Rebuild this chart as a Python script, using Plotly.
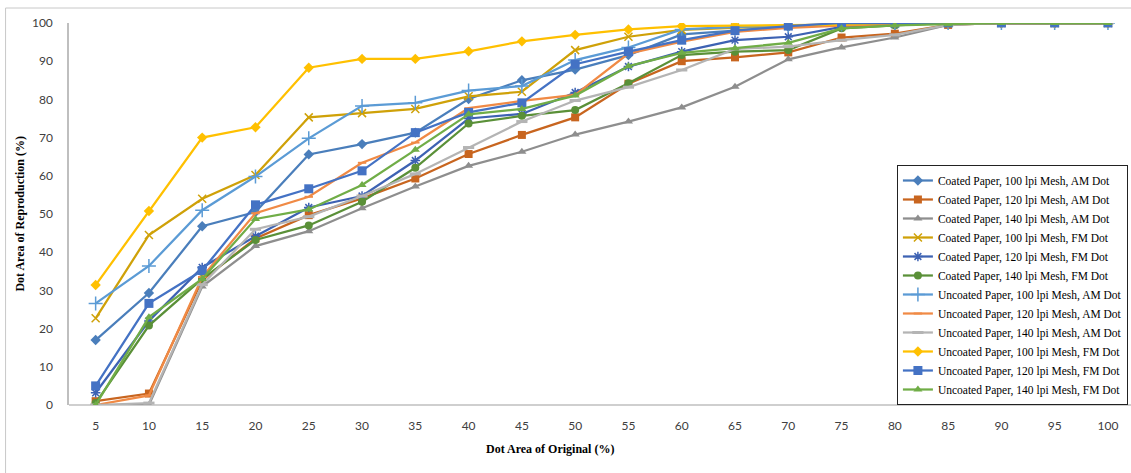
import plotly.graph_objects as go

x_original = [5, 10, 15, 20, 25, 30, 35, 40, 45, 50, 55, 60, 65, 70, 75, 80, 85, 90, 95, 100]

coated_100_am = [17, 29.3, 46.8, 50.5, 65.6, 68.3, 71.3, 80.1, 85.0, 87.8, 91.6, 97.0, 98.0, 99.0, 99.5, 100, 100, 100, 100, 100]
coated_120_am = [1, 3, 32.7, 43.6, 49.7, 54.1, 59.3, 65.7, 70.7, 75.3, 84.1, 90.0, 91.0, 92.3, 96.2, 97.2, 99.5, 100, 100, 100]
coated_140_am = [0, 0, 31.0, 41.6, 45.5, 51.5, 57.2, 62.6, 66.3, 70.8, 74.2, 77.9, 83.3, 90.5, 93.6, 96.2, 99.5, 100, 100, 100]
coated_100_fm = [22.7, 44.5, 54.0, 60.2, 75.3, 76.4, 77.5, 80.8, 82.0, 92.9, 96.4, 98.2, 98.8, 99.3, 99.6, 100, 100, 100, 100, 100]
coated_120_fm = [3.2, 22.0, 36.0, 44.2, 51.7, 54.7, 64.0, 75.0, 76.2, 81.8, 88.6, 92.5, 95.5, 96.4, 99.0, 99.5, 100, 100, 100, 100]
coated_140_fm = [0.5, 20.8, 33.0, 43.2, 47.0, 53.2, 62.1, 73.7, 75.7, 77.2, 84.2, 91.6, 92.5, 92.9, 98.6, 99.4, 100, 100, 100, 100]
uncoated_100_am = [26.6, 36.4, 51.0, 59.8, 69.8, 78.3, 79.1, 82.3, 83.5, 90.3, 93.6, 98.3, 99.0, 99.3, 99.6, 100, 100, 100, 100, 100]
uncoated_120_am = [0, 2.5, 33.5, 50.2, 54.5, 63.4, 68.7, 77.7, 79.6, 81.2, 92.0, 95.1, 97.7, 98.7, 99.3, 99.6, 100, 100, 100, 100]
uncoated_140_am = [0, 0.5, 31.5, 46.0, 49.3, 54.7, 60.5, 67.4, 74.2, 79.7, 83.2, 87.7, 93.2, 93.8, 95.5, 96.9, 99.5, 100, 100, 100]
uncoated_100_fm = [31.4, 50.8, 70.0, 72.7, 88.3, 90.6, 90.6, 92.6, 95.2, 96.9, 98.3, 99.2, 99.3, 99.4, 99.6, 100, 100, 100, 100, 100]
uncoated_120_fm = [5.0, 26.6, 35.2, 52.4, 56.6, 61.3, 71.3, 76.6, 79.1, 89.2, 92.5, 95.5, 98.0, 99.2, 100, 100, 100, 100, 100, 100]
uncoated_140_fm = [0, 23.0, 33.0, 48.7, 51.2, 57.6, 66.8, 76.1, 77.5, 81.0, 88.7, 92.2, 93.4, 94.8, 98.6, 99.4, 99.7, 100, 100, 100]

series_names = [
    "Coated Paper, 100 lpi Mesh, AM Dot",
    "Coated Paper, 120 lpi Mesh, AM Dot",
    "Coated Paper, 140 lpi Mesh, AM Dot",
    "Coated Paper, 100 lpi Mesh, FM Dot",
    "Coated Paper, 120 lpi Mesh, FM Dot",
    "Coated Paper, 140 lpi Mesh, FM Dot",
    "Uncoated Paper, 100 lpi Mesh, AM Dot",
    "Uncoated Paper, 120 lpi Mesh, AM Dot",
    "Uncoated Paper, 140 lpi Mesh, AM Dot",
    "Uncoated Paper, 100 lpi Mesh, FM Dot",
    "Uncoated Paper, 120 lpi Mesh, FM Dot",
    "Uncoated Paper, 140 lpi Mesh, FM Dot",
]
series_values = [
    coated_100_am, coated_120_am, coated_140_am, coated_100_fm, coated_120_fm, coated_140_fm,
    uncoated_100_am, uncoated_120_am, uncoated_140_am, uncoated_100_fm, uncoated_120_fm, uncoated_140_fm,
]

styles = [
    dict(color="#4A7EBB", symbol="diamond", size=8, lw=0),
    dict(color="#C8651F", symbol="square", size=8, lw=0),
    dict(color="#8E8E8E", symbol="triangle-up", size=8, lw=0),
    dict(color="#CFA108", symbol="x-thin-open", size=8, lw=1.5),
    dict(color="#3D62B3", symbol="asterisk-open", size=8, lw=1.5),
    dict(color="#5A9038", symbol="circle", size=8, lw=0),
    dict(color="#5B9BD5", symbol="cross-thin-open", size=10, lw=1.5),
    dict(color="#F08A45", symbol="line-ew-open", size=6, lw=2),
    dict(color="#B4B4B4", symbol="line-ew-open", size=8, lw=3),
    dict(color="#FFC000", symbol="diamond", size=8, lw=0),
    dict(color="#4472C4", symbol="square", size=9, lw=0),
    dict(color="#70AD47", symbol="triangle-up", size=8, lw=0),
]

fig = go.Figure()
for name, vals, st in zip(series_names, series_values, styles):
    fig.add_trace(go.Scatter(
        x=x_original, y=vals, name=name, mode="lines+markers",
        line=dict(color=st["color"], width=2.25),
        marker=dict(symbol=st["symbol"], size=st["size"], color=st["color"],
                    line=dict(color=st["color"], width=st["lw"])),
    ))

L, R_PX, T, B = 69.4, 1131, 23, 405
W = R_PX - L
H = B - T

def px_x(p):
    return (p - L) / W

def px_y(p):
    return (B - p) / H

fig.update_layout(
    width=1131, height=473,
    margin=dict(l=69.4, r=0, t=23, b=68, pad=0, autoexpand=False),
    paper_bgcolor="white", plot_bgcolor="white",
    showlegend=True,
    legend=dict(
        x=px_x(897), xanchor="left", y=0, yanchor="bottom",
        bgcolor="white", bordercolor="#222222", borderwidth=1,
        font=dict(family="Liberation Serif", size=11.5, color="#000000"),
        tracegroupgap=0, itemwidth=30,
    ),
    xaxis=dict(
        range=[2.5, 2.5 + W / (53.26 / 5)],
        tickmode="array", tickvals=x_original, ticktext=[str(v) for v in x_original],
        showgrid=False, zeroline=False, showline=False, ticks="",
        tickfont=dict(family="Lato", size=12, color="#404040"),
        ticklabelstandoff=12,
    ),
    yaxis=dict(
        range=[0, 100], tickmode="array", tickvals=list(range(0, 101, 10)),
        showgrid=False, zeroline=False, showline=True, linecolor="#BFBFBF", linewidth=1.5,
        ticks="", tickfont=dict(family="Lato", size=12, color="#404040"),
        ticklabelstandoff=12,
    ),
    shapes=[
        dict(type="line", xref="paper", yref="paper", x0=0, x1=1, y0=0, y1=0,
             line=dict(color="#BFBFBF", width=1.5), layer="below"),
        dict(type="rect", xref="paper", yref="paper",
             x0=px_x(6), x1=px_x(1140), y0=px_y(480), y1=px_y(8),
             line=dict(color="#C8C8C8", width=1), fillcolor="rgba(0,0,0,0)", layer="below"),
    ],
    annotations=[
        dict(text="<b>Dot Area of Reproduction (%)</b>", textangle=-90,
             xref="paper", yref="paper", x=px_x(20), y=px_y(214),
             xanchor="center", yanchor="middle", showarrow=False,
             font=dict(family="Liberation Serif", size=12, color="#000000")),
        dict(text="<b>Dot Area of Original (%)</b>",
             xref="paper", yref="paper", x=px_x(550), y=px_y(449),
             xanchor="center", yanchor="middle", showarrow=False,
             font=dict(family="Liberation Serif", size=12, color="#000000")),
    ],
)

fig.write_html("out.html")
